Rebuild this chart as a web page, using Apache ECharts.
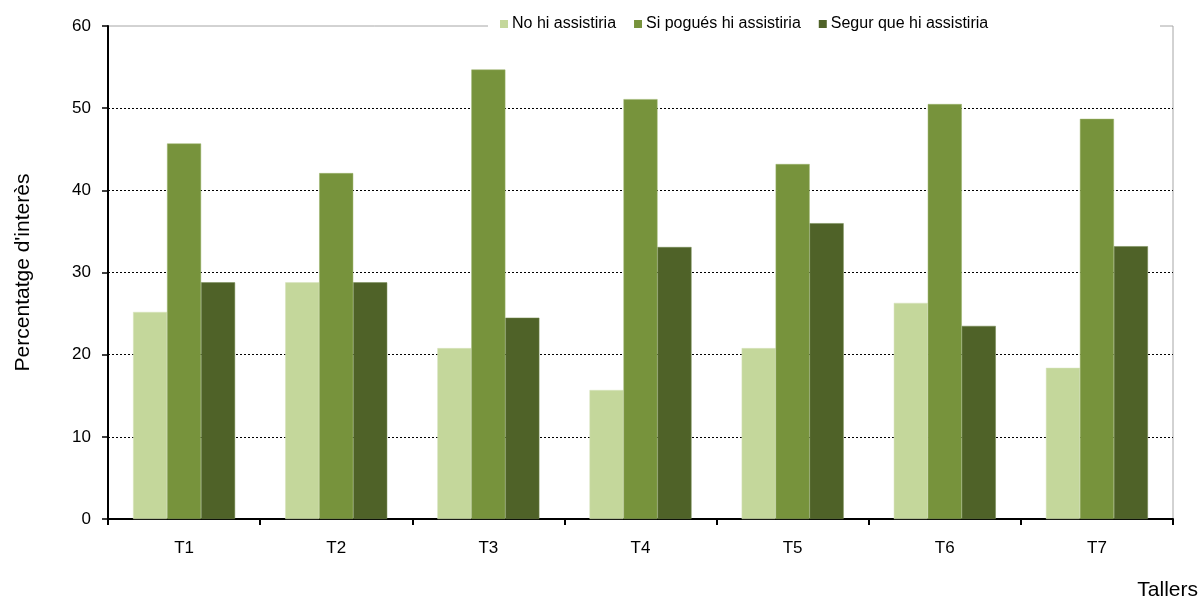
<!DOCTYPE html>
<html>
<head>
<meta charset="utf-8">
<script src="https://cdn.jsdelivr.net/npm/echarts@6/dist/echarts.min.js"></script>
<style>
  html, body { margin: 0; padding: 0; background: #fff; }
  #main { width: 1200px; height: 604px; }
</style>
</head>
<body>
<div id="main"></div>
<script>
// dades del gràfic
var tallers = ['T1', 'T2', 'T3', 'T4', 'T5', 'T6', 'T7'];
var noHiAssistiria = [25.2, 28.8, 20.8, 15.7, 20.8, 26.3, 18.4];
var siPoguesHiAssistiria = [45.7, 42.1, 54.7, 51.1, 43.2, 50.5, 48.7];
var segurQueHiAssistiria = [28.8, 28.8, 24.5, 33.1, 36.0, 23.5, 33.2];

var myChart = echarts.init(document.getElementById('main'));

var font = "'Liberation Sans', Arial, sans-serif";

var option = {
    animation: false,
    backgroundColor: '#fff',
    color: ['#C4D79B', '#77933C', '#4F6228'],
    title: {
        text: 'Tallers',
        right: 2,
        top: 580,
        padding: 0,
        textStyle: { fontFamily: font, fontSize: 21, fontWeight: 'normal', color: '#000' }
    },
    // tapa la vora superior darrere la llegenda
    graphic: [{
        type: 'rect',
        z: 3,
        shape: { x: 488, y: 14, width: 672, height: 20 },
        style: { fill: '#fff' }
    }],
    legend: {
        left: 500,
        top: 15,
        padding: 0,
        itemWidth: 8,
        itemHeight: 8,
        itemGap: 18,
        icon: 'rect',
        itemStyle: { borderWidth: 0 },
        textStyle: {
            fontFamily: font,
            fontSize: 16,
            lineHeight: 18,
            color: '#000',
            padding: [0, 0, 0, -1]
        },
        data: ['No hi assistiria', 'Si pogués hi assistiria', 'Segur que hi assistiria']
    },
    grid: {
        left: 108,
        right: 27,
        top: 26,
        bottom: 85,
        show: true,
        borderColor: '#a6a6a6',
        borderWidth: 1,
        z: 0
    },
    xAxis: {
        type: 'category',
        data: tallers,
        axisLine: { lineStyle: { color: '#000', width: 2 } },
        axisTick: { show: true, length: 6, lineStyle: { color: '#000', width: 2 } },
        axisLabel: { margin: 21, fontFamily: font, fontSize: 17, color: '#000' }
    },
    yAxis: {
        type: 'value',
        min: 0,
        max: 60,
        interval: 10,
        name: "Percentatge d'interès",
        nameLocation: 'middle',
        nameGap: 74,
        nameTextStyle: { fontFamily: font, fontSize: 21, color: '#000' },
        axisLine: { show: true, lineStyle: { color: '#000', width: 2 } },
        axisTick: { show: true, length: 6, lineStyle: { color: '#000', width: 1.5 } },
        axisLabel: { margin: 17, fontFamily: font, fontSize: 17, color: '#000' },
        splitLine: {
            show: true,
            showMinLine: false,
            showMaxLine: false,
            lineStyle: { color: '#000', type: [2, 2], width: 1 }
        }
    },
    series: [
        {
            name: 'No hi assistiria',
            type: 'bar',
            barWidth: 34,
            barGap: '0%',
            data: noHiAssistiria,
            itemStyle: { borderColor: '#d6e3bc', borderWidth: 0.5 }
        },
        {
            name: 'Si pogués hi assistiria',
            type: 'bar',
            barWidth: 34,
            barGap: '0%',
            data: siPoguesHiAssistiria,
            itemStyle: { borderColor: '#9bb36a', borderWidth: 0.5 }
        },
        {
            name: 'Segur que hi assistiria',
            type: 'bar',
            barWidth: 34,
            barGap: '0%',
            data: segurQueHiAssistiria,
            itemStyle: { borderColor: '#73894f', borderWidth: 0.5 }
        }
    ]
};

myChart.setOption(option);
</script>
</body>
</html>
